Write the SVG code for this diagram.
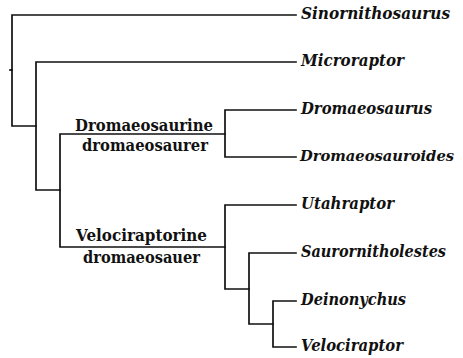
<svg xmlns="http://www.w3.org/2000/svg" width="463" height="358" viewBox="0 0 463 358">
<style>
.e{fill:none;stroke:#111;stroke-width:1.7;stroke-linecap:square}
.sp{font-family:"DejaVu Serif",serif;font-style:italic;font-weight:bold;font-size:16px;fill:#111}
.cl{font-family:"DejaVu Serif",serif;font-weight:bold;font-size:17px;fill:#111}
</style>
<rect width="463" height="358" fill="#fff"/>
<g id="connectors">
<path class="e" d="M296,15 H12 V126 H36"/>
<path class="e" d="M10,70 H12"/>
<path class="e" d="M296,62 H36 V190 H60"/>
<path class="e" d="M225,134 H60 V247 H225"/>
<path class="e" d="M296,110 H225 V157 H296"/>
<path class="e" d="M296,205 H225 V289 H249"/>
<path class="e" d="M296,253 H249 V324 H273"/>
<path class="e" d="M296,301 H273 V347 H296"/>
</g>
<g id="sinornithosaurus"><text class="sp" x="301" y="19" textLength="149" lengthAdjust="spacingAndGlyphs">Sinornithosaurus</text></g>
<g id="microraptor"><text class="sp" x="301" y="66" textLength="103" lengthAdjust="spacingAndGlyphs">Microraptor</text></g>
<g id="dromaeosaurus"><text class="sp" x="301" y="114" textLength="131" lengthAdjust="spacingAndGlyphs">Dromaeosaurus</text></g>
<g id="dromaeosauroides"><text class="sp" x="300" y="161" style="font-size:14.5px" textLength="154" lengthAdjust="spacingAndGlyphs">Dromaeosauroides</text></g>
<g id="utahraptor"><text class="sp" x="301" y="209" textLength="93" lengthAdjust="spacingAndGlyphs">Utahraptor</text></g>
<g id="saurornitholestes"><text class="sp" x="301" y="257" textLength="145" lengthAdjust="spacingAndGlyphs">Saurornitholestes</text></g>
<g id="deinonychus"><text class="sp" x="301" y="305" textLength="105" lengthAdjust="spacingAndGlyphs">Deinonychus</text></g>
<g id="velociraptor"><text class="sp" x="301" y="351" textLength="102" lengthAdjust="spacingAndGlyphs">Velociraptor</text></g>
<g id="dromaeosaurine"><text class="cl" x="75" y="131" textLength="138" lengthAdjust="spacingAndGlyphs">Dromaeosaurine</text><text class="cl" x="82" y="151" textLength="126" lengthAdjust="spacingAndGlyphs">dromaeosaurer</text></g>
<g id="velociraptorine"><text class="cl" x="76" y="241" textLength="131" lengthAdjust="spacingAndGlyphs">Velociraptorine</text><text class="cl" x="83" y="263" textLength="117" lengthAdjust="spacingAndGlyphs">dromaeosauer</text></g>
</svg>
